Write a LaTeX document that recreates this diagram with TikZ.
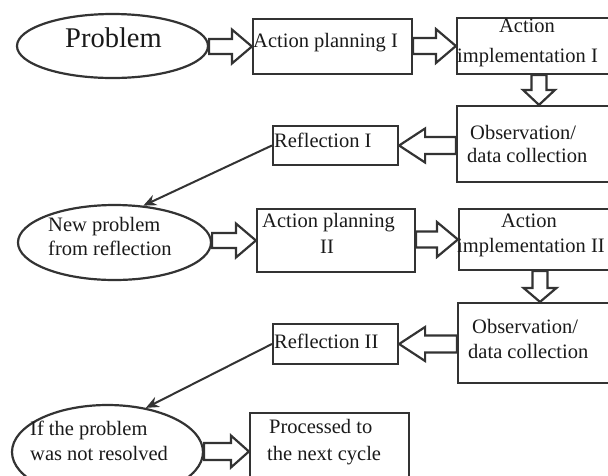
\documentclass[tikz,border=0pt]{standalone}
\usepackage{fontspec}
\setmainfont{Liberation Serif}
\usetikzlibrary{shapes.geometric,calc,arrows.meta}
\definecolor{ln}{HTML}{333333}
\definecolor{tx}{HTML}{1A1A1A}
% hollow block arrows: #1 start, #2 tip, #3 shaft half width, #4 head half width, #5 head length
\newcommand{\fatR}[5]{\draw[fat] ($(#1 |- #2)+(0,-#3)$) -- ($(#2)+(-#5,-#3)$) -- ($(#2)+(-#5,-#4)$) -- (#2) -- ($(#2)+(-#5,#4)$) -- ($(#2)+(-#5,#3)$) -- ($(#1 |- #2)+(0,#3)$) -- cycle;}
\newcommand{\fatL}[5]{\draw[fat] ($(#1 |- #2)+(0,-#3)$) -- ($(#2)+(#5,-#3)$) -- ($(#2)+(#5,-#4)$) -- (#2) -- ($(#2)+(#5,#4)$) -- ($(#2)+(#5,#3)$) -- ($(#1 |- #2)+(0,#3)$) -- cycle;}
\newcommand{\fatD}[5]{\draw[fat] ($(#1 -| #2)+(-#3,0)$) -- ($(#2)+(-#3,-#5)$) -- ($(#2)+(-#4,-#5)$) -- (#2) -- ($(#2)+(#4,-#5)$) -- ($(#2)+(#3,-#5)$) -- ($(#1 -| #2)+(#3,0)$) -- cycle;}
\begin{document}
\begin{tikzpicture}[x=1pt,y=-1pt,
  box/.style={draw=ln, line width=2.2pt, rectangle, inner sep=0pt},
  ell/.style={draw=ln, line width=2.2pt, ellipse, inner sep=0pt},
  txt/.style={inner sep=0pt, anchor=base west, text=tx, font=\fontsize{20.5}{24}\selectfont},
  txtc/.style={txt, anchor=base},
  fat/.style={draw=ln, line width=2.2pt, line join=miter},
  thinarr/.style={draw=ln, line width=2pt, -{Stealth[length=13pt,width=11pt]}}]
\useasboundingbox (0,0) rectangle (608,475);

% shapes
\node[ell, minimum width=191pt, minimum height=64pt] (prob) at (112.5,46) {};
\node[box, minimum width=159pt, minimum height=55pt] (ap1) at (332.5,46.5) {};
\node[box, minimum width=164pt, minimum height=56pt] (ai1) at (539,46) {};
\node[box, minimum width=164pt, minimum height=76pt] (obs1) at (539,144) {};
\node[box, minimum width=125pt, minimum height=39pt] (ref1) at (335.5,145.5) {};
\node[ell, minimum width=193pt, minimum height=75pt] (np) at (114.5,242.5) {};
\node[box, minimum width=158pt, minimum height=63pt] (ap2) at (336,240.5) {};
\node[box, minimum width=162pt, minimum height=61pt] (ai2) at (540,239.5) {};
\node[box, minimum width=164pt, minimum height=80pt] (obs2) at (540,343) {};
\node[box, minimum width=125pt, minimum height=40pt] (ref2) at (335.5,344) {};
\node[ell, minimum width=191pt, minimum height=94pt] (ifp) at (107.5,452) {};
\node[box, minimum width=159pt, minimum height=77pt] (proc) at (329.5,451.5) {};

% texts
\node[txt, font=\fontsize{28.5}{32}\selectfont] (t0) at (65,47) {Problem};
\node[txt] (t1) at (253,47) {Action planning I};
\node[txtc] (t2) at (527,32) {Action};
\node[txt] (t3) at (457,62) {implementation I};
\node[txt] (t4) at (470,139) {Observation/};
\node[txt] (t5) at (467,162) {data collection};
\node[txt] (t6) at (274,147) {Reflection I};
\node[txt] (t7) at (48,231) {New problem};
\node[txt] (t8) at (48,255) {from reflection};
\node[txt] (t9) at (262,227) {Action planning};
\node[txtc] (t10) at (327,253) {II};
\node[txtc] (t11) at (529,227) {Action};
\node[txt] (t12) at (457,252) {implementation II};
\node[txt] (t13) at (472,333) {Observation/};
\node[txt] (t14) at (468,358) {data collection};
\node[txt] (t15) at (274,348) {Reflection II};
\node[txt] (t16) at (30,435) {If the problem};
\node[txt] (t17) at (30,460) {was not resolved};
\node[txt] (t18) at (269,433) {Processed to};
\node[txt] (t19) at (267,460) {the next cycle};

% hollow arrows
\fatR{prob.east}{ap1.west}{7.5}{17}{20}
\fatR{ap1.east}{ai1.west}{8}{17}{20}
\fatD{ai1.south}{obs1.north}{7.5}{16}{15}
\fatL{obs1.west}{ref1.east}{8.5}{17}{26}
\fatR{np.east}{ap2.west}{7.5}{17}{20}
\fatR{ap2.east}{ai2.west}{8}{17.5}{21}
\fatD{ai2.south}{obs2.north}{7.5}{16.5}{14}
\fatL{obs2.west}{ref2.east}{8.5}{17}{26}
\fatR{ifp.east}{proc.west}{8.5}{16}{18}

% thin arrows
\draw[thinarr] (ref1.west) -- (np.52);
\draw[thinarr] (ref2.west) -- (ifp.49);
\end{tikzpicture}
\end{document}
